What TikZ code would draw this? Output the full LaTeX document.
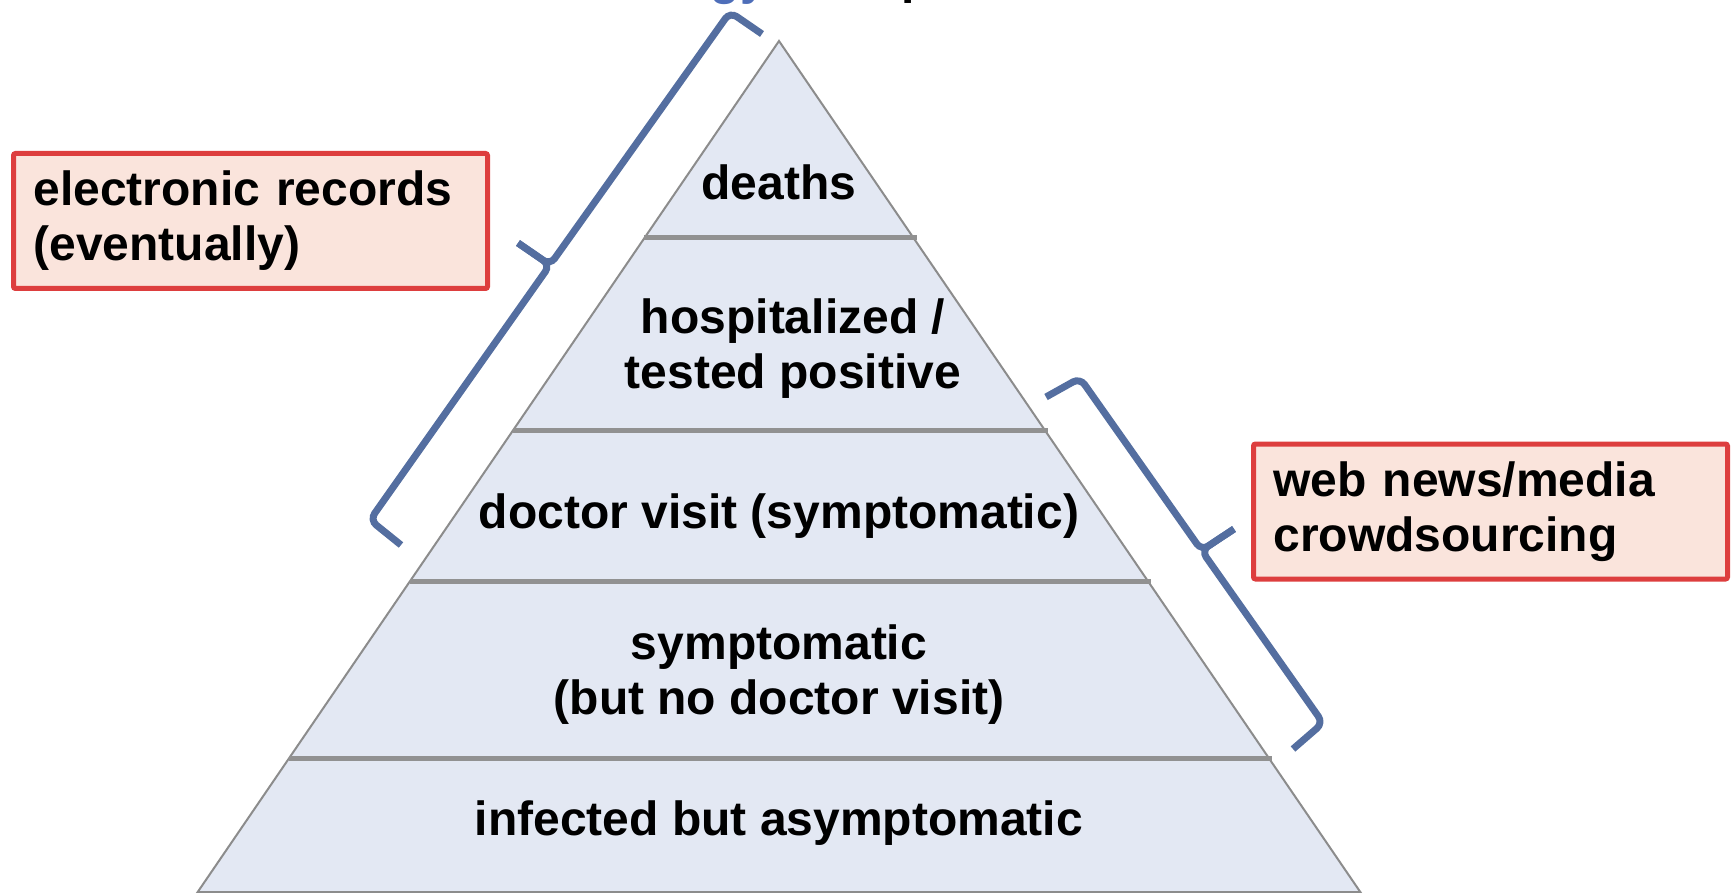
\documentclass[tikz,border=0pt]{standalone}
\usepackage{fontspec}
\setmainfont{Liberation Sans}
\definecolor{bracec}{RGB}{84,110,160}
\definecolor{titleblue}{RGB}{78,110,185}
\definecolor{pyrfill}{RGB}{227,232,243}
\definecolor{pyredge}{RGB}{140,140,140}
\definecolor{divc}{RGB}{145,145,145}
\definecolor{boxred}{RGB}{221,62,62}
\definecolor{boxfill}{RGB}{250,228,220}
\begin{document}
\begin{tikzpicture}[x=1pt,y=-1pt,
  bigfont/.style={font=\fontsize{48}{55}\selectfont\bfseries},
  lbl/.style={bigfont, align=center, inner sep=0pt},
  redbox/.style={bigfont, draw=boxred, fill=boxfill, line width=5pt, rounded corners=2pt,
     minimum width=474pt, minimum height=135pt, text width=434pt, inner xsep=20pt, inner ysep=0pt, align=left},
  bracepath/.style={draw=bracec, line width=7pt, rounded corners=8pt},
  divider/.style={draw=divc, line width=5pt},
]
\useasboundingbox (0,0) rectangle (1733,893);
\begin{scope}
\clip (0,0) rectangle (1733,893);
% cut-off title fragments
\node[bigfont, text=titleblue, anchor=base east, inner sep=0pt] (ttl1) at (767,-5) {gy};
\node[bigfont, text=black, anchor=base west, inner sep=0pt] (ttl2) at (901,-6) {p};
% pyramid
\filldraw[fill=pyrfill, draw=pyredge, line width=2pt] (779,41) -- (197.7,892) -- (1360.3,892) -- cycle;
\draw[divider] (644,238) -- (917,238);
\draw[divider] (513,430) -- (1048,430);
\draw[divider] (410,581) -- (1151,581);
\draw[divider] (289,758) -- (1272,758);
\end{scope}
% labels
\node[lbl] (deaths) at (779,182) {deaths};
\node[lbl] (hosp) at (793,349) {hospitalized /\\tested positive};
\node[lbl] (doctor) at (779,516) {doctor visit (symptomatic)};
\node[lbl] (sympt) at (779,675) {symptomatic\\(but no doctor visit)};
\node[lbl] (infect) at (779,823) {infected but asymptomatic};
% boxes
\node[redbox] (ehr) at (250.5,221) {electronic records\\(eventually)};
\node[redbox] (web) at (1490.5,511.5) {web news/media\\crowdsourcing};
% left brace
\coordinate (lA) at (762,34);
\coordinate (lB) at (730,12);
\coordinate (lM) at (550,265);
\coordinate (lT) at (518,243);
\coordinate (lE) at (370,520);
\coordinate (lF) at (401,545);
\draw[bracepath] (lA) -- (lB) -- (lM) -- (lT);
\draw[bracepath] (lT) -- (lM) -- (lE) -- (lF);
% right brace
\coordinate (rA) at (1046,397);
\coordinate (rB) at (1080,378);
\coordinate (rM) at (1201.5,550.5);
\coordinate (rT) at (1234,529);
\coordinate (rE) at (1323,723);
\coordinate (rF) at (1293,749);
\draw[bracepath] (rA) -- (rB) -- (rM) -- (rT);
\draw[bracepath] (rT) -- (rM) -- (rE) -- (rF);
\end{tikzpicture}
\end{document}
